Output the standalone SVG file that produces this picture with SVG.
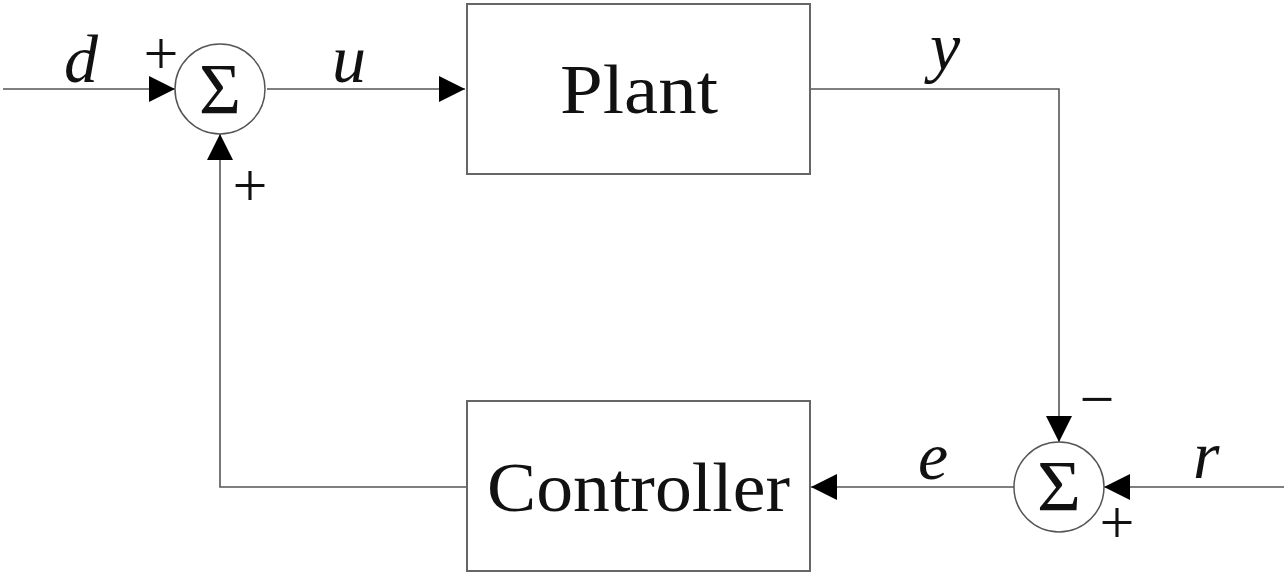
<svg xmlns="http://www.w3.org/2000/svg" width="1288" height="577" viewBox="0 0 1288 577">
<style>
.box{fill:#fff;stroke:#666;stroke-width:2}
.sum{fill:#fff;stroke:#555;stroke-width:1.5}
.wire{fill:none;stroke:#555;stroke-width:1.6}
.lbl{font-family:"Liberation Serif","DejaVu Serif",serif;font-style:italic;font-size:68px;fill:#111}
.name{font-family:"Liberation Serif","DejaVu Serif",serif;font-size:70px;fill:#111}
.sig{font-family:"Liberation Serif","DejaVu Serif",serif;font-size:72px;fill:#111}
.sign{font-family:"Liberation Serif","DejaVu Serif",serif;font-size:62px;fill:#111;text-anchor:middle}
</style>
<defs>
<marker id="arr" markerUnits="userSpaceOnUse" markerWidth="28" markerHeight="28" refX="26" refY="13" orient="auto" viewBox="0 0 28 28">
<path d="M0,0 L26,13 L0,26 Z" fill="#000"/>
</marker>
</defs>
<g id="connectors">
<path class="wire" d="M3,89 H175" marker-end="url(#arr)"/>
<path class="wire" d="M267,89 H465" marker-end="url(#arr)"/>
<path class="wire" d="M810,89 H1059 V442" marker-end="url(#arr)"/>
<path class="wire" d="M1284,487 H1104" marker-end="url(#arr)"/>
<path class="wire" d="M1014,487 H811" marker-end="url(#arr)"/>
<path class="wire" d="M467,487 H220 V134" marker-end="url(#arr)"/>
</g>
<g id="sum1">
<circle class="sum" cx="220" cy="89" r="45"/>
<text class="sig" x="199" y="113" textLength="42" lengthAdjust="spacingAndGlyphs">Σ</text>
<text class="sign" x="161" y="74">+</text>
<text class="sign" x="250" y="206">+</text>
</g>
<g id="plant">
<rect class="box" x="467" y="4" width="343" height="170"/>
<text class="name" x="560" y="113" textLength="158" lengthAdjust="spacingAndGlyphs">Plant</text>
</g>
<g id="controller">
<rect class="box" x="467" y="401" width="343" height="170"/>
<text class="name" x="487" y="511" textLength="303" lengthAdjust="spacingAndGlyphs">Controller</text>
</g>
<g id="sum2">
<circle class="sum" cx="1059" cy="487" r="45"/>
<text class="sig" x="1037" y="510" textLength="44" lengthAdjust="spacingAndGlyphs">Σ</text>
<text class="sign" x="1097" y="420">−</text>
<text class="sign" x="1117" y="543">+</text>
</g>
<g id="labels">
<text class="lbl" x="64" y="82">d</text>
<text class="lbl" x="332" y="82">u</text>
<text class="lbl" x="930" y="70">y</text>
<text class="lbl" x="918" y="479">e</text>
<text class="lbl" x="1193" y="478">r</text>
</g>
</svg>
